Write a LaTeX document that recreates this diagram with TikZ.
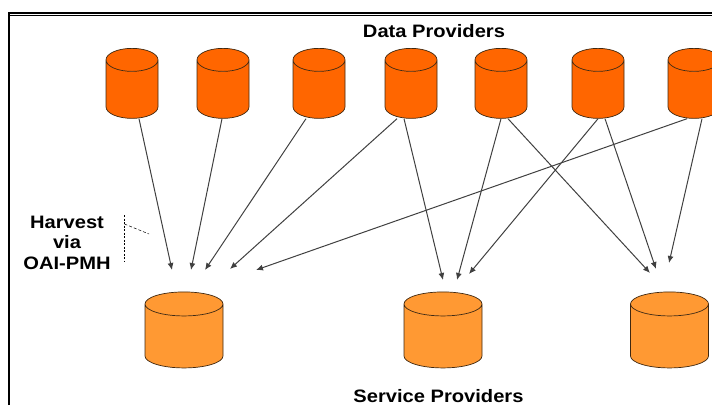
\documentclass[tikz,border=0pt]{standalone}
\usepackage{fontspec}
\setmainfont{Liberation Sans}[FakeStretch=1.118]
\usetikzlibrary{shapes.geometric,arrows.meta}
\definecolor{dataorange}{HTML}{FF6600}
\definecolor{serviceorange}{HTML}{FF9933}
\definecolor{linegrey}{HTML}{404040}
\definecolor{edgebrown}{HTML}{402810}
\tikzstyle{store} = [cylinder, shape border rotate=90, draw=edgebrown, line width=.7pt, inner sep=2pt, cylinder uses custom fill]
\tikzstyle{data} = [store, aspect=5.75, minimum width=52pt, minimum height=70pt, cylinder body fill=dataorange, cylinder end fill=dataorange]
\tikzstyle{service} = [store, aspect=6, minimum width=78pt, minimum height=76pt, cylinder body fill=serviceorange, cylinder end fill=serviceorange]
\tikzstyle{title} = [font=\bfseries\fontsize{18}{20.5}\selectfont, inner sep=0pt]
\tikzstyle{harvest} = [->, >={Latex[length=7pt,width=6pt]}, draw=linegrey, line width=1pt]

\begin{document}
\begin{tikzpicture}[x=1pt,y=-1pt]
      \useasboundingbox (0,0) rectangle (712,405);
      \draw[line width=2.4pt] (9,405) -- (9,13) -- (712,13);
      \draw[line width=.8pt] (10,15.6) -- (712,15.6);
      \node[title, anchor=base] (top) at (434,37) {Data Providers};
      \node[title, anchor=base] (bottom) at (438.5,402) {Service Providers};
      \node[title, align=center, anchor=base] (via) at (67,269) {Harvest\\via\\OAI-PMH};
      \node[data] (d1) at (132,91.5) {};
      \node[data] (d2) at (223,91.5) {};
      \node[data] (d3) at (319,91.5) {};
      \node[data] (d4) at (411,91.5) {};
      \node[data] (d5) at (501,91.5) {};
      \node[data] (d6) at (598,91.5) {};
      \node[data] (d7) at (694,91.5) {};
      \node[service] (s1) at (184,338) {};
      \node[service] (s2) at (443,338) {};
      \node[service] (s3) at (669.5,338) {};
      \coordinate (h1) at (172,270);
      \coordinate (h2) at (191,270);
      \coordinate (h3) at (205,270);
      \coordinate (h4) at (230,269);
      \coordinate (h5) at (256,270);
      \coordinate (h6) at (443,280);
      \coordinate (h7) at (457,280);
      \coordinate (h8) at (469,274);
      \coordinate (h9) at (650,273);
      \coordinate (h10) at (656,269);
      \coordinate (h11) at (669,263);
      \draw[harvest] ([xshift=7pt]d1.south) -- (h1);
      \draw[harvest] ([xshift=-1pt]d2.south) -- (h2);
      \draw[harvest] ([xshift=-13pt]d3.south) -- (h3);
      \draw[harvest] ([xshift=-14pt]d4.south) -- (h4);
      \draw[harvest] ([xshift=-7pt]d4.south) -- (h6);
      \draw[harvest] (d5.south) -- (h7);
      \draw[harvest] ([xshift=7pt]d5.south) -- (h9);
      \draw[harvest] (d6.south) -- (h8);
      \draw[harvest] ([xshift=7pt]d6.south) -- (h10);
      \draw[harvest] ([xshift=-7pt]d7.south) -- (h5);
      \draw[harvest] ([xshift=8pt]d7.south) -- (h11);
      \coordinate (b1) at (124.5,215);
      \coordinate (b2) at (124.5,262);
      \coordinate (b3) at (124.5,224);
      \coordinate (b4) at (149,234);
      \draw[line width=.5pt, dash pattern=on 2pt off 1.5pt] (b1) -- (b2);
      \draw[line width=.5pt, dash pattern=on 3pt off 2pt] (b3) -- (b4);
    \end{tikzpicture}
\end{document}
